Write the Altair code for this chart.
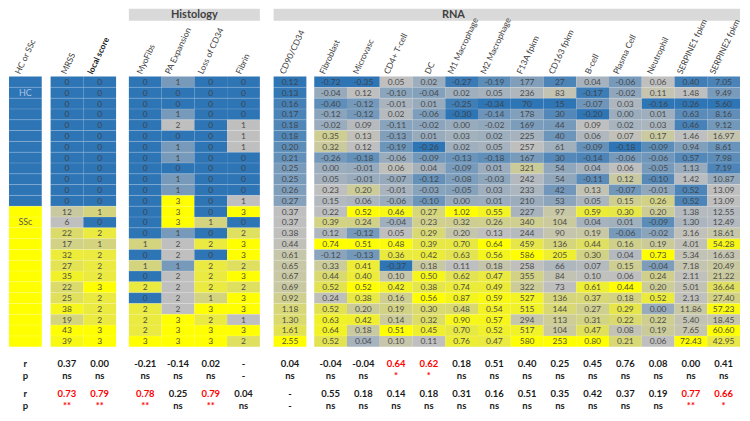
import altair as alt
import numpy as np
import pandas as pd

# ---------------- data ----------------
groups = ["HC"] * 12 + ["SSc"] * 13
mrss = [0] * 12 + [12, 6, 22, 17, 32, 27, 35, 22, 25, 38, 19, 43, 39]
local_score = [0] * 12 + [1, 0, 2, 1, 2, 2, 2, 3, 2, 2, 2, 3, 3]
myofibs = [0] * 12 + [0, 0, 0, 1, 0, 1, 0, 2, 0, 2, 2, 2, 3]
pa_expansion = [1, 0, 0, 1, 2, 0, 1, 1, 0, 1, 1, 3, 3, 3, 1, 2, 2, 1, 2, 2, 2, 2, 3, 3, 3]
loss_cd34 = [0] * 12 + [0, 1, 0, 2, 0, 2, 2, 2, 1, 3, 2, 3, 3]
fibrin = [0, 0, 0, 0, 1, 1, 1, 0, 0, 0, 0, 1, 3, 0, 2, 3, 3, 2, 3, 2, 3, 3, 1, 3, 2]
cd90_cd34 = [0.12, 0.13, 0.16, 0.17, 0.18, 0.18, 0.20, 0.21, 0.25, 0.25, 0.26, 0.27,
             0.37, 0.37, 0.38, 0.44, 0.61, 0.65, 0.67, 0.69, 0.92, 1.18, 1.30, 1.61, 2.55]
fibroblast = [-0.72, -0.04, -0.40, -0.12, -0.02, 0.35, 0.32, -0.26, 0.00, 0.05, 0.23, 0.15,
              0.22, 0.39, 0.12, 0.74, -0.12, 0.33, 0.44, 0.52, 0.24, 0.52, 0.63, 0.64, 0.52]
microvasc = [-0.35, 0.12, -0.12, -0.12, 0.09, 0.13, 0.12, -0.18, -0.01, -0.01, 0.20, 0.06,
             0.52, 0.24, -0.12, 0.51, -0.13, 0.41, 0.40, 0.52, 0.38, 0.20, 0.42, 0.18, 0.04]
cd4_tcell = [0.05, -0.10, -0.01, 0.02, -0.11, -0.13, -0.19, -0.06, 0.06, -0.07, -0.01, -0.06,
             0.46, -0.04, 0.05, 0.48, 0.36, -0.37, 0.10, 0.42, 0.16, 0.19, 0.14, 0.51, 0.10]
dc = [0.02, -0.04, 0.01, -0.06, -0.02, 0.01, -0.26, -0.09, 0.04, -0.12, -0.03, -0.10,
      0.27, 0.23, 0.29, 0.39, 0.42, 0.18, 0.50, 0.38, 0.56, 0.30, 0.32, 0.45, 0.11]
m1_macrophage = [-0.27, 0.02, -0.25, -0.30, 0.00, 0.03, 0.02, -0.13, -0.09, -0.08, -0.05, 0.00,
                 1.02, 0.32, 0.20, 0.70, 0.63, 0.11, 0.62, 0.74, 0.87, 0.48, 0.90, 0.70, 0.76]
m2_macrophage = [-0.19, 0.05, -0.34, -0.14, -0.02, 0.02, 0.05, -0.18, 0.01, -0.03, 0.03, 0.01,
                 0.55, 0.26, 0.13, 0.64, 0.56, 0.18, 0.47, 0.49, 0.59, 0.54, 0.57, 0.52, 0.47]
f13a_fpkm = [177, 236, 70, 178, 169, 225, 257, 167, 321, 242, 233, 210,
             227, 340, 244, 459, 586, 258, 355, 322, 527, 515, 294, 517, 580]
cd163_fpkm = [27, 83, 15, 30, 44, 40, 61, 30, 54, 54, 42, 53,
              97, 104, 90, 136, 205, 66, 84, 73, 136, 144, 113, 104, 253]
b_cell = [0.04, -0.17, -0.07, -0.20, 0.09, 0.06, -0.09, -0.14, 0.04, -0.11, 0.13, 0.05,
          0.59, 0.04, 0.19, 0.44, 0.30, 0.07, 0.10, 0.61, 0.37, 0.27, 0.31, 0.47, 0.80]
plasma_cell = [-0.06, -0.02, 0.03, 0.00, 0.02, 0.07, -0.18, -0.06, 0.06, 0.12, -0.07, 0.15,
               0.30, 0.01, -0.06, 0.16, 0.04, 0.15, 0.06, 0.44, 0.18, 0.29, 0.22, 0.08, 0.21]
neutrophil = [0.06, 0.11, -0.16, 0.01, 0.03, 0.17, -0.09, -0.06, -0.05, -0.10, -0.01, 0.26,
              0.20, -0.09, -0.02, 0.19, 0.73, -0.04, 0.24, 0.20, 0.52, 0.00, 0.22, 0.19, 0.06]
serpine1_fpkm = [0.40, 1.48, 0.26, 0.63, 0.46, 1.46, 0.94, 0.57, 1.13, 1.42, 0.52, 0.52,
                 1.38, 1.30, 3.16, 4.01, 5.34, 7.18, 2.11, 5.01, 2.13, 11.86, 5.40, 7.65, 72.43]
serpine2_fpkm = [7.05, 9.49, 5.60, 8.16, 9.12, 16.97, 8.61, 7.98, 7.19, 10.87, 13.09, 13.09,
                 12.55, 12.49, 18.61, 54.28, 16.63, 20.49, 21.22, 36.64, 27.40, 57.23, 18.45, 60.60, 42.95]

stat_columns = ["MRSS", "local score", "MyoFibs", "PA Expansion", "Loss of CD34", "Fibrin",
                "CD90/CD34", "Fibroblast", "Microvasc", "CD4+ T-cell", "DC", "M1 Macrophage",
                "M2 Macrophage", "F13A fpkm", "CD163 fpkm", "B-cell", "Plasma Cell", "Neutrophil",
                "SERPINE1 fpkm", "SERPINE2 fpkm"]
r_first = ["0.37", "0.00", "-0.21", "-0.14", "0.02", "-", "0.04", "-0.04", "-0.04", "0.64", "0.62",
           "0.18", "0.51", "0.40", "0.25", "0.45", "0.76", "0.08", "0.00", "0.41"]
p_first = ["ns", "ns", "ns", "ns", "ns", "-", "ns", "ns", "ns", "*", "*",
           "ns", "ns", "ns", "ns", "ns", "ns", "ns", "ns", "ns"]
r_second = ["0.73", "0.79", "0.78", "0.25", "0.79", "0.04", "-", "0.55", "0.18", "0.14", "0.18",
            "0.31", "0.16", "0.51", "0.35", "0.42", "0.37", "0.19", "0.77", "0.66"]
p_second = ["**", "**", "**", "ns", "**", "ns", "-", "ns", "ns", "ns", "ns",
            "ns", "ns", "ns", "ns", "ns", "ns", "ns", "**", "*"]

columns = {
    "MRSS": mrss, "local score": local_score,
    "MyoFibs": myofibs, "PA Expansion": pa_expansion, "Loss of CD34": loss_cd34, "Fibrin": fibrin,
    "CD90/CD34": cd90_cd34,
    "Fibroblast": fibroblast, "Microvasc": microvasc, "CD4+ T-cell": cd4_tcell, "DC": dc,
    "M1 Macrophage": m1_macrophage, "M2 Macrophage": m2_macrophage, "F13A fpkm": f13a_fpkm,
    "CD163 fpkm": cd163_fpkm, "B-cell": b_cell, "Plasma Cell": plasma_cell, "Neutrophil": neutrophil,
    "SERPINE1 fpkm": serpine1_fpkm, "SERPINE2 fpkm": serpine2_fpkm,
}
integer_columns = {"MRSS", "local score", "MyoFibs", "PA Expansion", "Loss of CD34", "Fibrin",
                   "F13A fpkm", "CD163 fpkm"}

# ---------------- layout ----------------
BLUE, GREY, YELLOW = "#2E75B6", "#BFBFBF", "#FFFF00"
TEXT = "#404040"
DARK = "#1a1a1a"
RED = "#FF0000"
FONT = "Lato"
W, H = 734, 405

col_groups = [
    ["HC or SSc"],
    ["MRSS", "local score"],
    ["MyoFibs", "PA Expansion", "Loss of CD34", "Fibrin"],
    ["CD90/CD34"],
    ["Fibroblast", "Microvasc", "CD4+ T-cell", "DC", "M1 Macrophage", "M2 Macrophage",
     "F13A fpkm", "CD163 fpkm", "B-cell", "Plasma Cell", "Neutrophil", "SERPINE1 fpkm", "SERPINE2 fpkm"],
]
gaps = [0.27, 0.39, 0.42, 0.24]
left = {}
spans = []
pos = 0.0
for gi, g in enumerate(col_groups):
    start = pos
    for c in g:
        left[c] = pos
        pos += 1.0
    spans.append((start, pos))
    if gi < len(gaps):
        pos += gaps[gi]
X_TOTAL = pos
PX_X = W / X_TOTAL

PITCH = 10.85          # px per table row
TABLE_TOP = 68         # px from top of plot
Y_TOP = -TABLE_TOP / PITCH
Y_BOT = (H - TABLE_TOP) / PITCH


def yu(px):
    return (px - TABLE_TOP) / PITCH


n_rows = len(groups)
xscale = alt.Scale(domain=[0, X_TOTAL], nice=False, zero=False)
yscale = alt.Scale(domain=[Y_TOP, Y_BOT], reverse=True, nice=False, zero=False)
X = lambda f: alt.X(f, type="quantitative", scale=xscale, axis=None)
Y = lambda f: alt.Y(f, type="quantitative", scale=yscale, axis=None)


def norm(vals):
    a = np.asarray(vals, dtype=float)
    lo, mid, hi = a.min(), np.percentile(a, 50), a.max()
    out = []
    for v in a:
        if v <= lo:
            out.append(-1.0)
        elif v >= hi:
            out.append(1.0)
        elif v < mid:
            out.append(float((v - mid) / (mid - lo)))
        else:
            out.append(float((v - mid) / (hi - mid)) if hi > mid else 0.0)
    return out


# cells
cell_rows = []
for i, g in enumerate(groups):
    cell_rows.append(dict(x0=left["HC or SSc"], x1=left["HC or SSc"] + 1, y0=i, y1=i + 1,
                          t=-1.0 if g == "HC" else 1.0, label=""))
for c, vals in columns.items():
    ts = norm(vals)
    for i, v in enumerate(vals):
        lab = f"{int(v)}" if c in integer_columns else f"{v:.2f}"
        cell_rows.append(dict(x0=left[c], x1=left[c] + 1, y0=i, y1=i + 1, t=ts[i], label=lab))
cells = pd.DataFrame(cell_rows)
cells["xc"] = cells["x0"] + 0.5
cells["yc"] = cells["y0"] + 0.5

color_scale = alt.Scale(domain=[-1, 0, 1], range=[BLUE, GREY, YELLOW], interpolate="rgb")

rects = alt.Chart(cells).mark_rect().encode(
    x=X("x0"), x2="x1", y=Y("y0"), y2="y1",
    fill=alt.Fill("t:Q", scale=color_scale, legend=None),
)
cell_text = alt.Chart(cells).mark_text(font=FONT, fontSize=8.5, color=TEXT, opacity=0.9).encode(
    x=X("xc"), y=Y("yc"), text="label:N")

# row separators
sep_rows = []
for (a, b) in spans:
    for k in range(1, n_rows):
        sep_rows.append(dict(x0=a, x1=b, y=k))
seps = alt.Chart(pd.DataFrame(sep_rows)).mark_rule(color="white", strokeWidth=0.6, opacity=0.3).encode(
    x=X("x0"), x2="x1", y=Y("y"))

# group labels
glab = pd.DataFrame([
    dict(x=left["HC or SSc"] + 0.5, y=1.5, label="HC", light=True),
    dict(x=left["HC or SSc"] + 0.5, y=13.5, label="SSc", light=False),
])
group_light = alt.Chart(glab).mark_text(font=FONT, fontSize=9, color="#A9C6E6").transform_filter(
    "datum.light").encode(x=X("x"), y=Y("y"), text="label:N")
group_dark = alt.Chart(glab).mark_text(font=FONT, fontSize=9, color="#595959").transform_filter(
    "!datum.light").encode(x=X("x"), y=Y("y"), text="label:N")

# rotated column headers
ANG = 65
FS_HEAD = 8.5
head_rows = []
for g in col_groups:
    for c in g:
        w_px = len(c) * FS_HEAD * 0.5
        proj = w_px * np.cos(np.radians(ANG))
        head_rows.append(dict(x=float(left[c] + 0.5 - (proj / 2) / PX_X), y=yu(TABLE_TOP - 3),
                              label=c, bold=(c == "local score")))
heads = pd.DataFrame(head_rows)
head_norm = alt.Chart(heads).mark_text(font=FONT, fontSize=FS_HEAD, color=TEXT, angle=360 - ANG,
                                       align="left", baseline="middle").transform_filter(
    "!datum.bold").encode(x=X("x"), y=Y("y"), text="label:N")
head_bold = alt.Chart(heads).mark_text(font=FONT, fontSize=FS_HEAD, color=DARK, angle=360 - ANG,
                                       align="left", baseline="middle", fontWeight="bold"
                                       ).transform_filter("datum.bold").encode(
    x=X("x"), y=Y("y"), text="label:N")

# section bars
rna_start = left["CD90/CD34"]
bars = pd.DataFrame([
    dict(x0=left["MyoFibs"], x1=left["Fibrin"] + 1, label="Histology",
         xt=(left["MyoFibs"] + left["Fibrin"] + 1) / 2),
    dict(x0=rna_start, x1=left["SERPINE2 fpkm"] + 1, label="RNA",
         xt=left["M1 Macrophage"] + 0.25),
])
bars["y0"] = yu(0)
bars["y1"] = yu(12)
bars["yt"] = yu(6.5)
bar_rects = alt.Chart(bars).mark_rect(color="#D9D9D9").encode(
    x=X("x0"), x2="x1", y=Y("y0"), y2="y1")
bar_text = alt.Chart(bars).mark_text(font=FONT, fontSize=11, fontWeight="bold", color=TEXT).encode(
    x=X("xt"), y=Y("yt"), text="label:N")

# statistics rows
stat_y = [yu(356.5), yu(368.5), yu(387), yu(398.5)]
stat_rows = []
for lab, yy in zip(["r", "p", "r", "p"], stat_y):
    stat_rows.append(dict(x=left["HC or SSc"] + 0.5, y=yy, label=lab, sig=False))
for j, c in enumerate(stat_columns):
    sig1 = p_first[j] in ("*", "**")
    sig2 = p_second[j] in ("*", "**")
    for lab, yy, sig in [(r_first[j], stat_y[0], sig1), (p_first[j], stat_y[1], sig1),
                         (r_second[j], stat_y[2], sig2), (p_second[j], stat_y[3], sig2)]:
        stat_rows.append(dict(x=left[c] + 0.5, y=yy, label=lab, sig=sig))
stats = pd.DataFrame(stat_rows)
stat_dark = alt.Chart(stats).mark_text(font=FONT, fontSize=9.5, fontWeight="bold", color=DARK
                                       ).transform_filter("!datum.sig").encode(
    x=X("x"), y=Y("y"), text="label:N")
stat_red = alt.Chart(stats).mark_text(font=FONT, fontSize=9.5, fontWeight="bold", color=RED
                                      ).transform_filter("datum.sig").encode(
    x=X("x"), y=Y("y"), text="label:N")

chart = alt.layer(
    bar_rects, bar_text, rects, seps, cell_text, group_light, group_dark,
    head_norm, head_bold, stat_dark, stat_red
).properties(width=W, height=H, padding=0).configure_view(stroke=None)

chart.save("out.html", embed_options={"renderer": "svg", "actions": False})
